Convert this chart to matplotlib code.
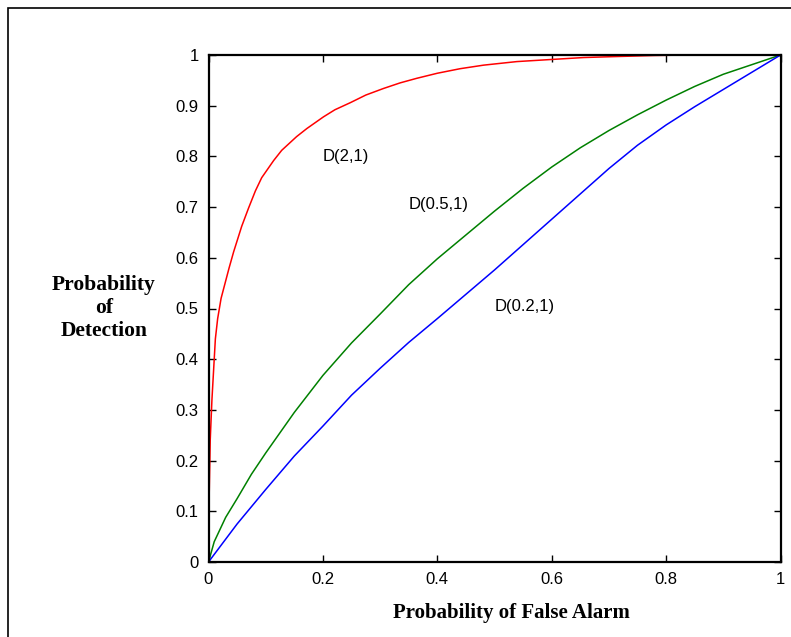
import matplotlib.pyplot as plt
from matplotlib.patches import Rectangle

# ROC curves
red_x = [0, 0.001, 0.003, 0.006, 0.009, 0.012, 0.016, 0.022, 0.029, 0.036, 0.044,
         0.058, 0.07, 0.082, 0.093, 0.114, 0.128, 0.154, 0.172, 0.201, 0.221,
         0.248, 0.275, 0.306, 0.335, 0.364, 0.4, 0.44, 0.481, 0.539, 0.597,
         0.656, 0.714, 0.78, 0.836]
red_y = [0, 0.12, 0.24, 0.32, 0.38, 0.44, 0.48, 0.52, 0.55, 0.58, 0.612,
         0.662, 0.698, 0.732, 0.758, 0.792, 0.812, 0.839, 0.855, 0.878, 0.892,
         0.906, 0.921, 0.934, 0.945, 0.954, 0.964, 0.973, 0.980, 0.987, 0.991,
         0.995, 0.997, 0.999, 1.0]

green_x = [0, 0.01, 0.03, 0.05, 0.075, 0.1, 0.15, 0.2, 0.25, 0.3, 0.35, 0.4,
           0.45, 0.5, 0.55, 0.6, 0.65, 0.7, 0.75, 0.8, 0.85, 0.9, 0.95, 1.0]
green_y = [0, 0.04, 0.088, 0.125, 0.173, 0.215, 0.295, 0.368, 0.432, 0.489, 0.547, 0.598,
           0.645, 0.692, 0.737, 0.779, 0.817, 0.851, 0.882, 0.911, 0.938, 0.962, 0.981, 1.0]

blue_x = [0, 0.02, 0.05, 0.1, 0.15, 0.2, 0.25, 0.3, 0.35, 0.4, 0.45, 0.5,
          0.55, 0.6, 0.65, 0.7, 0.75, 0.8, 0.85, 0.9, 0.95, 1.0]
blue_y = [0, 0.03, 0.075, 0.143, 0.209, 0.268, 0.329, 0.382, 0.433, 0.480, 0.528, 0.576,
          0.626, 0.676, 0.726, 0.776, 0.822, 0.862, 0.898, 0.932, 0.966, 1.0]

labels = ["D(2,1)", "D(0.5,1)", "D(0.2,1)"]
label_pos = [(0.2, 0.8), (0.35, 0.705), (0.5, 0.503)]

x_ticks = [0, 0.2, 0.4, 0.6, 0.8, 1]
x_ticklabels = ["0", "0.2", "0.4", "0.6", "0.8", "1"]
y_ticks = [0, 0.1, 0.2, 0.3, 0.4, 0.5, 0.6, 0.7, 0.8, 0.9, 1]
y_ticklabels = ["0", "0.1", "0.2", "0.3", "0.4", "0.5", "0.6", "0.7", "0.8", "0.9", "1"]

plt.rcParams['font.family'] = ['Liberation Sans', 'DejaVu Sans']

fig = plt.figure(figsize=(7.91, 6.37), dpi=100)
ax = fig.add_axes([208.5 / 791, 75 / 637, 572 / 791, 507 / 637])

ax.plot(red_x, red_y, color='#ff0000', lw=1.1)
ax.plot(green_x, green_y, color='#008000', lw=1.1)
ax.plot(blue_x, blue_y, color='#0000ff', lw=1.1)

for txt, (tx, ty) in zip(labels, label_pos):
    ax.text(tx, ty, txt, fontsize=12, ha='left', va='center')

ax.set_xlim(0, 1)
ax.set_ylim(0, 1)
ax.set_xticks(x_ticks)
ax.set_xticklabels(x_ticklabels)
ax.set_yticks(y_ticks)
ax.set_yticklabels(y_ticklabels)
ax.tick_params(direction='in', length=5, width=1, labelsize=12, pad=7,
               top=True, right=True)
for s in ax.spines.values():
    s.set_linewidth(1.6)

fig.text(511 / 791, 1 - 613 / 637, "Probability of False Alarm",
         family=['Liberation Serif'], weight='bold', fontsize=15,
         ha='center', va='center')
fig.text(104 / 791, 1 - 308 / 637, "Probability\nof\nDetection",
         family=['Liberation Serif'], weight='bold', fontsize=15.5,
         ha='center', va='center', linespacing=1.2)

# outer frame
fig.patches.append(Rectangle((8 / 791, -0.1), 1.2, 1 - 8 / 637 + 0.1,
                             transform=fig.transFigure, fill=False,
                             edgecolor='black', lw=1.2))

fig.savefig('out.png', dpi=100)
